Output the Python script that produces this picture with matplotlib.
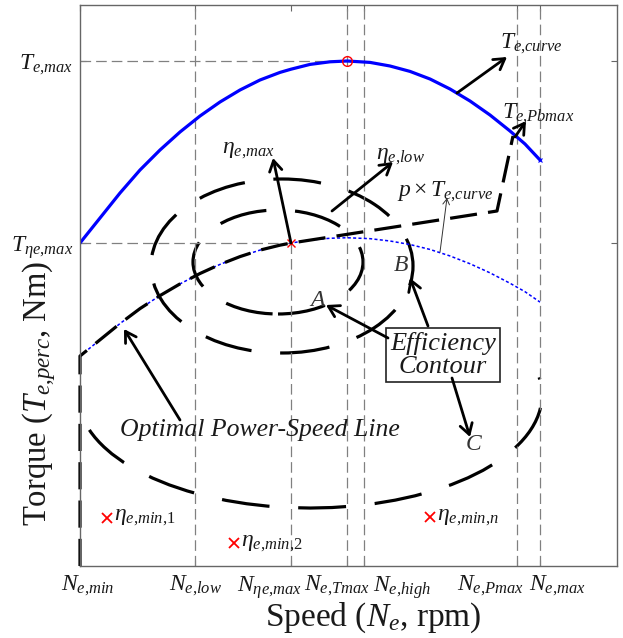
import numpy as np
import matplotlib
matplotlib.use("Agg")
import matplotlib.pyplot as plt
from matplotlib.patches import Ellipse, Arc
from matplotlib.transforms import blended_transform_factory

plt.rcParams["font.family"] = ["Liberation Serif", "DejaVu Serif"]
plt.rcParams["mathtext.fontset"] = "custom"
plt.rcParams["mathtext.rm"] = "Liberation Serif"
plt.rcParams["mathtext.it"] = "Liberation Serif:italic"
plt.rcParams["mathtext.bf"] = "Liberation Serif:bold"

# characteristic speeds (rpm)
n_min = 1000
n_low = 2150
n_eta_max = 3110
n_T_max = 3670
n_high = 3840
n_P_max = 5370
n_max = 5600

# characteristic torques (Nm)
T_max = 252.5
T_eta_max = 161.5

# max torque curve T_e,curve
speed = [1000, 1200, 1400, 1600, 1800, 2000, 2200, 2400, 2600, 2800, 3000, 3110,
         3300, 3500, 3670, 3900, 4100, 4300, 4500, 4700, 4900, 5100, 5300, 5450, 5600]
torque_curve = [161.5, 174, 186.5, 198, 208, 217, 225, 232, 238, 243, 246.8, 248.4,
                250.8, 252.1, 252.5, 251.8, 250, 247.3, 243.5, 238.5, 232.5, 225.5,
                217.5, 211, 203]
p = 0.65
torque_perc = [p * t for t in torque_curve]

# optimal power-speed line beyond the max efficiency point
opt_tail_speed = [5170, 5330]
opt_tail_torque = [177.5, 215]

# efficiency contours (centre speed, centre torque, width, height)
cont_speed = [2980, 3020, 3300]
cont_torque = [152, 150, 85.5]
cont_width = [1700, 2620, 4640]
cont_height = [52, 87, 113]

# minimum efficiency points
min_speed = [1270, 2540, 4500]
min_torque = [24, 11.5, 24.5]
min_labels = [r"$\eta_{\mathit{e{,}min{,}1}}$", r"$\eta_{\mathit{e{,}min{,}2}}$",
              r"$\eta_{\mathit{e{,}min{,}n}}$"]

x_ticks = [n_min, n_low, n_eta_max, n_T_max, n_high, n_P_max, n_max]
x_labels = [r"$N_{e{,}min}$", r"$N_{e{,}low}$", r"$N_{\eta e{,}max}$", r"$N_{e{,}Tmax}$",
            r"$N_{e{,}high}$", r"$N_{e{,}Pmax}$", r"$N_{e{,}max}$"]
x_label_pos = [1080, 2160, 2900, 3570, 4220, 5100, 5770]

fig = plt.figure(figsize=(6.23, 6.38), dpi=100)
ax = fig.add_axes([80 / 623, 72 / 638, 537 / 623, 561 / 638])
ax.set_xlim(1000, 6370)
ax.set_ylim(0, 280.5)

gray = "#808080"
gdash = (0, (8.5, 4))
lw_g = 0.9
ax.plot([n_min, n_T_max], [T_max, T_max], color=gray, lw=lw_g, ls=gdash)
ax.plot([n_min, n_eta_max], [T_eta_max, T_eta_max], color=gray, lw=lw_g, ls=gdash)
ax.plot([n_eta_max, n_eta_max], [0, T_eta_max], color=gray, lw=lw_g, ls=gdash)
for n in [n_low, n_T_max, n_high, n_P_max, n_max]:
    ax.plot([n, n], [0, 280.5], color=gray, lw=lw_g, ls=gdash)

# torque curves
ax.plot(speed, torque_curve, color="#0000ff", lw=2.3)
ax.plot(speed, torque_perc, color="#0000ff", lw=1.1, ls=(0, (2, 1.5)))
ax.plot([n_max], [torque_curve[-1]], "x", color="#0000ff", ms=3, mew=0.8)

# optimal power-speed line
k = speed.index(n_eta_max) + 1
opt_speed = [n_min] + speed[:k] + opt_tail_speed
opt_torque = [0] + torque_perc[:k] + opt_tail_torque
ax.plot(opt_speed, opt_torque, color="k", lw=2.3, ls=(0, (8.5, 3.5)), clip_on=False)

# efficiency contours
cdash = (0, (15, 9))
for i in range(2):
    ax.add_patch(Ellipse((cont_speed[i], cont_torque[i]), cont_width[i], cont_height[i],
                         fill=False, ec="k", lw=2.3, ls=cdash))
w, h = cont_width[2], cont_height[2]
def data_angle(t):
    t = np.deg2rad(t)
    return np.rad2deg(np.arctan2(h * np.sin(t), w * np.cos(t)))
ax.add_patch(Arc((cont_speed[2], cont_torque[2]), w, h, theta1=data_angle(198),
                 theta2=data_angle(369), ec="k", lw=2.3, ls=cdash))

# markers
ax.plot([n_T_max], [T_max], "o", mfc="none", mec="red", ms=7, mew=1)
ax.plot([n_eta_max], [T_eta_max], "x", color="red", ms=6, mew=1)
for xs, ys, lab in zip(min_speed, min_torque, min_labels):
    ax.plot([xs], [ys], "x", color="red", ms=7, mew=1.3)
    ax.annotate(lab, (xs, ys), xytext=(5, 0), textcoords="offset points",
                fontsize=17, va="center", ha="left", color="#1a1a1a")

arrow = dict(arrowstyle="->,head_length=0.5,head_width=0.3", lw=2, color="k",
             shrinkA=0, shrinkB=0, mutation_scale=15)
txt = "#1a1a1a"

def arr(tail, head, props=arrow):
    ax.annotate("", xy=head, xytext=tail, arrowprops=props)

arr((4770, 236.5), (5270, 254.5))
ax.text(5200, 261, r"$T_{e{,}curve}$", fontsize=17, ha="left", va="center", color=txt)
arr((5350, 214.5), (5460, 222.5))
ax.text(5220, 226, r"$T_{e{,}Pbmax}$", fontsize=17, ha="left", va="center", color=txt)
arr((n_eta_max, T_eta_max), (2930, 204))
ax.text(2680, 208, r"$\eta_{e{,}max}$", fontsize=17, ha="center", va="center", color=txt)
arr((3520, 177.5), (4130, 202))
ax.text(4200, 205, r"$\eta_{e{,}low}$", fontsize=17, ha="center", va="center", color=txt)
thin = dict(arrowstyle="->,head_length=0.5,head_width=0.3", lw=0.7, color="#333333",
            shrinkA=0, shrinkB=0, mutation_scale=8)
arr((4600, 157), (4670, 184), thin)
ax.text(4650, 187, r"$p\times T_{e{,}curve}$", fontsize=17, ha="center", va="center", color=txt)

ax.text(3370, 133, "A", fontsize=17, style="italic", ha="center", va="center", color="#333333")
ax.text(4210, 150.5, "B", fontsize=17, style="italic", ha="center", va="center", color="#333333")
ax.text(4940, 60.5, "C", fontsize=17, style="italic", ha="center", va="center", color="#333333")

ax.text(4630, 105.5, "Efficiency\nContour", fontsize=19, style="italic", ha="center",
        va="center", color=txt, linespacing=1.08,
        bbox=dict(boxstyle="square,pad=0.15", fc="white", ec="#222222", lw=1.2))
arr((4080, 114), (3460, 130.5))
arr((4480, 120), (4300, 144))
arr((4720, 94), (4900, 64.5))

ax.text(2800, 68, "Optimal Power-Speed Line", fontsize=18.5, style="italic",
        ha="center", va="center", color=txt)
arr((2000, 73), (1440, 118.5))

# axes styling
for s in ax.spines.values():
    s.set_color("#666666")
    s.set_linewidth(1)
ax.set_xticks(x_ticks)
ax.set_xticklabels([])
ax.set_yticks([T_eta_max, T_max])
ax.set_yticklabels([r"$T_{\eta e{,}max}$", r"$T_{e{,}max}$"], fontsize=17, color=txt)
ax.tick_params(direction="in", length=4, color="#666666", top=True, right=True, pad=5)
trans = blended_transform_factory(ax.transData, ax.transAxes)
for xp, lab in zip(x_label_pos, x_labels):
    ax.text(xp, -0.014, lab, transform=trans, fontsize=17, ha="center", va="top", color=txt)

ax.set_xlabel(r"Speed ($N_e$, rpm)", fontsize=24, color=txt)
ax.xaxis.set_label_coords(0.5456, -0.062)
ax.set_ylabel(r"Torque ($T_{e{,}perc}$, Nm)", fontsize=23.5, color=txt)
ax.yaxis.set_label_coords(-0.041, 0.308)

fig.savefig("out.png", dpi=100)
